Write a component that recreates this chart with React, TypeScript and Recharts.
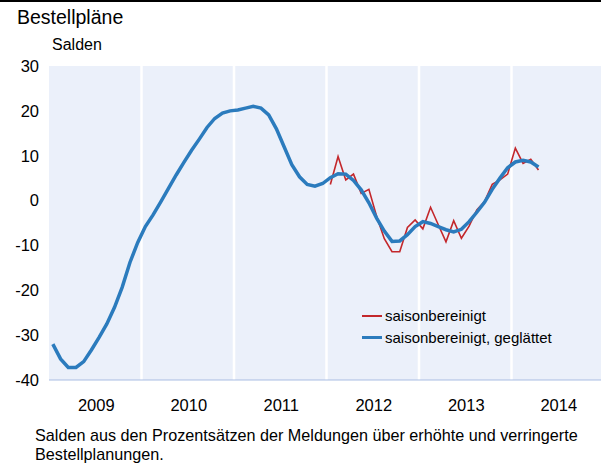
// Bestellpläne: saisonbereinigte Salden, monatlich 2009–2014

import { LineChart, Line, XAxis, YAxis, CartesianGrid, ReferenceLine } from "recharts";

const yearLabels = ["2009", "2010", "2011", "2012", "2013", "2014"];

// Jan 2009 – Apr 2014
const smoothedValues = [
  -32, -35.3, -37.2, -37.2, -35.9, -33.3, -30.5, -27.5, -23.8, -19.3, -13.8, -9.4,
  -5.8, -3.2, -0.3, 2.7, 5.7, 8.5, 11.2, 13.7, 16.3, 18.3, 19.5, 20.0,
  20.2, 20.6, 21.0, 20.6, 19.1, 16.0, 12.0, 8.0, 5.3, 3.6, 3.2, 3.8,
  5.1, 6.0, 5.9, 4.5, 2.4, -0.5, -3.9, -6.8, -9.1, -9.0, -7.6, -5.8,
  -4.7, -5.1, -5.8, -6.5, -7.0, -6.4, -4.7, -2.6, -0.4, 2.5, 5.0, 7.3,
  8.6, 9.0, 8.6, 7.5,
];

// Jan 2012 – Apr 2014
const rawStart = 36;
const rawValues = [
  3.6, 9.8, 4.6, 5.9, 1.6, 2.5, -3.5, -8.5, -11.4, -11.4, -6.0, -4.3,
  -6.3, -1.5, -5.4, -9.2, -4.5, -8.4, -5.7, -2.1, -0.2, 3.6, 4.6, 5.9,
  11.7, 8.3, 9.2, 6.8,
];

const yTicks = [-40, -30, -20, -10, 0, 10, 20, 30];
const yearBounds = [0, 12, 24, 36, 48, 60, 72];
const yearMids = [6, 18, 30, 42, 54, 66];

const RED = "#c3272b";
const BLUE = "#2b7bbd";
const AXIS = "#a9bde3";
const FONT = "'Liberation Sans', Arial, sans-serif";

const data = smoothedValues.map((v, i) => ({
  x: i + 0.5,
  smoothed: v,
  raw: i >= rawStart ? rawValues[i - rawStart] : null,
}));

const legendItems = [
  { label: "saisonbereinigt", color: RED, width: 2 },
  { label: "saisonbereinigt, geglättet", color: BLUE, width: 3.5 },
];

export default function App() {
  return (
    <div
      style={{
        position: "absolute",
        left: 0,
        top: 0,
        width: 601,
        height: 464,
        overflow: "hidden",
        background: "#fff",
        fontFamily: FONT,
      }}
    >
      <div style={{ position: "absolute", left: 0, top: 0, width: 601, height: 2, background: "#000" }} />
      <div style={{ position: "absolute", left: 17, top: 6, fontSize: 19.5 }}>Bestellpläne</div>
      <div style={{ position: "absolute", left: 52, top: 36, fontSize: 16 }}>Salden</div>
      <div style={{ position: "absolute", top: 0, left: 0 }}>
        <LineChart
          width={610}
          height={420}
          data={data}
          margin={{ top: 66, right: 6, bottom: 4, left: 0 }}
        >
          <CartesianGrid horizontal={false} vertical={false} fill="#ebf0fa" />
          {yearBounds.slice(1, -1).map((v) => (
            <ReferenceLine key={v} xAxisId="bounds" x={v} stroke="#fff" strokeWidth={2.5} />
          ))}
          <XAxis
            xAxisId="bounds"
            dataKey="x"
            type="number"
            domain={[0, 72]}
            ticks={yearBounds}
            tick={false}
            tickSize={5}
            tickLine={{ stroke: AXIS }}
            axisLine={{ stroke: AXIS }}
            height={6}
          />
          <XAxis
            xAxisId="labels"
            dataKey="x"
            type="number"
            domain={[0, 72]}
            ticks={yearMids}
            tickFormatter={(v: number) => yearLabels[yearMids.indexOf(v)]}
            tick={{ fontSize: 16.5, fill: "#000", fontFamily: FONT, dy: 5, dx: 1 }}
            axisLine={false}
            tickLine={false}
            height={30}
          />
          <YAxis
            domain={[-40, 30]}
            ticks={yTicks}
            axisLine={false}
            tickLine={false}
            width={49}
            tick={{ fontSize: 16.5, fill: "#000", fontFamily: FONT, dx: -2 }}
          />
          <Line
            xAxisId="bounds"
            dataKey="raw"
            type="linear"
            stroke={RED}
            strokeWidth={1.6}
            dot={false}
            connectNulls={false}
            isAnimationActive={false}
          />
          <Line
            xAxisId="bounds"
            dataKey="smoothed"
            type="linear"
            stroke={BLUE}
            strokeWidth={3.5}
            dot={false}
            isAnimationActive={false}
          />
        </LineChart>
      </div>
      <div style={{ position: "absolute", left: 362, top: 305, fontSize: 15, color: "#000" }}>
        {legendItems.map((it) => (
          <div key={it.label} style={{ display: "flex", alignItems: "center", height: 21.5 }}>
            <span
              style={{
                display: "inline-block",
                width: 20,
                height: it.width,
                background: it.color,
                marginRight: 3,
              }}
            />
            <span>{it.label}</span>
          </div>
        ))}
      </div>
      <div
        style={{
          position: "absolute",
          left: 35,
          top: 426,
          fontSize: 16.2,
          lineHeight: "19px",
          width: 566,
        }}
      >
        Salden aus den Prozentsätzen der Meldungen über erhöhte und verringerte Bestellplanungen.
      </div>
    </div>
  );
}
